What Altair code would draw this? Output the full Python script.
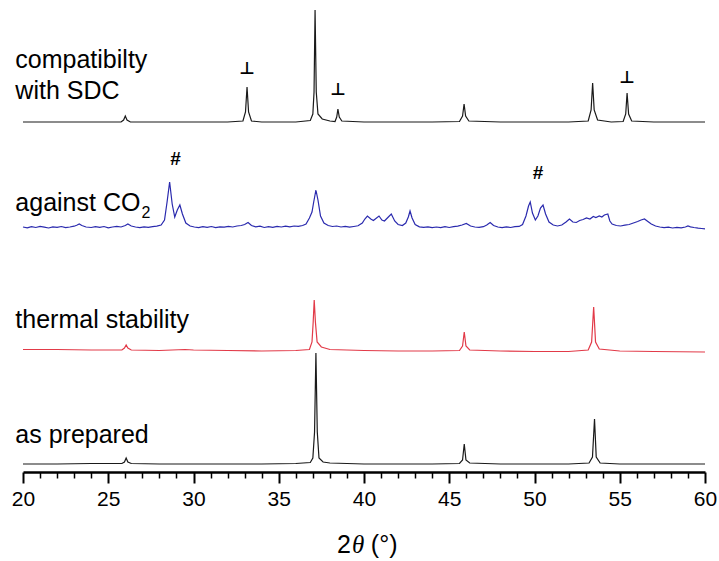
import altair as alt
import pandas as pd

# ---- data (2theta in degrees, intensity in arbitrary stacked units) ----
ap_x = [20.0, 22.0, 24.0, 25.8, 25.95, 26.05, 26.15, 26.35, 28.0, 30.0, 32.0, 34.0, 36.0, 36.85, 37.0, 37.1,
        37.18, 37.26, 37.36, 37.6, 38.0, 40.0, 42.0, 44.0, 45.6, 45.78, 45.88, 45.98, 46.2, 48.0, 50.0, 52.0,
        53.2, 53.4, 53.52, 53.62, 53.85, 55.0, 57.0, 60.0]
ap_y = [8, 8, 8.5, 8.5, 10, 14, 10, 8.5, 8, 8, 8, 8, 8.5, 9.5, 14, 40,
        119, 40, 14, 10, 9, 8, 8, 8, 8.5, 12, 28, 12, 9, 8, 8, 8,
        9, 15, 53, 15, 9, 8, 8, 8]

th_x = [20.0, 22.0, 24.0, 25.8, 25.95, 26.05, 26.15, 26.35, 28.0, 29.5, 30.0, 32.0, 34.0, 36.0, 36.8, 36.95,
        37.02, 37.08, 37.15, 37.25, 37.5, 38.0, 40.0, 42.0, 44.0, 45.6, 45.78, 45.88, 45.98, 46.2, 48.0, 50.0,
        52.0, 53.15, 53.35, 53.47, 53.58, 53.8, 55.0, 57.0, 60.0]
th_y = [122.5, 122.5, 122, 122, 124, 127, 124, 122, 121.5, 122.5, 122, 121.5, 121, 121.5, 122.5, 130,
        150, 172, 150, 130, 125, 122.5, 121.5, 121, 121, 121.5, 126, 140, 126, 122, 121, 120.5,
        120.5, 122, 130, 165, 130, 123, 121, 120.5, 120]

co_x_a = [20.0, 20.25, 20.5, 20.75, 21.0, 21.25, 21.5, 21.75, 22.0, 22.25, 22.5, 22.75, 23.0, 23.15, 23.3, 23.45,
          23.7, 24.0, 24.25, 24.5, 24.75, 25.0, 25.25, 25.5, 25.75, 26.0, 26.15, 26.35, 26.6, 26.85, 27.1, 27.35,
          27.6, 27.85, 28.1, 28.3, 28.45, 28.6, 28.75, 28.9, 29.05, 29.2, 29.35, 29.55, 29.8, 30.05, 30.3, 30.55,
          30.8, 31.05, 31.3, 31.55, 31.8, 32.05, 32.3, 32.55, 32.8, 33.0, 33.2, 33.4, 33.65, 33.9, 34.15, 34.4,
          34.65, 34.9, 35.15, 35.4, 35.65, 35.9, 36.15, 36.4, 36.6, 36.8, 36.95, 37.05, 37.18, 37.3, 37.45, 37.65,
          37.9, 38.15, 38.4, 38.65, 38.9, 39.15, 39.4, 39.65, 39.9, 40.05, 40.2, 40.4, 40.55, 40.7, 40.88, 41.05,
          41.2, 41.4, 41.6, 41.8, 42.0, 42.25, 42.45, 42.6, 42.7, 42.82, 43.0, 43.25, 43.5, 43.75]
co_y_a = [245, 244.2, 245.3, 244.5, 245.6, 244.8, 244, 245.2, 244.6, 245.5, 244.3, 245, 245.8, 246.8, 248, 246.5,
          245, 244.5, 245.4, 244.6, 245.5, 244.2, 245, 245.6, 245, 246.5, 248, 246, 245, 244.3, 245.2, 244.6,
          245.4, 245.8, 247, 252, 270, 290, 268, 255, 262, 267, 258, 249, 246, 245, 244.4, 245.3,
          244.6, 245.5, 244.4, 245.2, 244.8, 245.6, 245, 246, 246.5, 247.5, 249.5, 246.5, 245.2, 245.8, 244.5, 245.3,
          244.6, 245.6, 245, 245.8, 245.2, 246, 245.6, 246.5, 248, 254, 260, 270, 282, 272, 256, 249,
          246.5, 245.5, 246, 245, 245.6, 244.8, 245.5, 246.2, 249, 253, 256, 253, 251.5, 253.5, 256, 252,
          251, 254.5, 258, 251, 247.5, 246.5, 249, 255, 261, 254, 247.5, 245.2, 244.6, 245.2]
co_x_b = [44.0, 44.25, 44.5, 44.75, 45.0, 45.25, 45.5, 45.75, 46.0, 46.25, 46.5, 46.75, 47.0, 47.2, 47.4, 47.6,
          47.85, 48.1, 48.35, 48.6, 48.85, 49.1, 49.3, 49.5, 49.65, 49.75, 49.88, 50.05, 50.2, 50.35, 50.5, 50.65,
          50.85, 51.1, 51.35, 51.6, 51.85, 52.05, 52.25, 52.45, 52.65, 52.85, 53.05, 53.25, 53.45, 53.6, 53.8, 53.95,
          54.1, 54.3, 54.42, 54.55, 54.8, 55.05, 55.3, 55.55, 55.8, 56.05, 56.25, 56.45, 56.65, 56.85, 57.1, 57.35,
          57.6, 57.85, 58.1, 58.35, 58.6, 58.85, 59.0, 59.15, 59.35, 59.6, 59.8, 60.0]
co_y_b = [244.3, 245, 244.4, 245.3, 244.5, 245.4, 245.8, 247, 248.5, 246, 245, 244.6, 245.3, 247, 249.5, 246.5,
          245, 244.4, 245.2, 244.5, 245.3, 245.6, 247.5, 256, 266, 270, 259, 252, 256, 264, 267, 258,
          250, 247, 246, 247, 250, 253, 250, 249.5, 251.5, 252.5, 254, 253, 255.5, 254.5, 256, 255,
          257, 258, 251, 248, 246.5, 246, 246.8, 247.5, 249, 250.5, 252, 253, 250.5, 248, 246, 245,
          244.4, 244.8, 244, 244.6, 244.2, 245, 246, 245.2, 244.5, 243.8, 243.5, 243.2]

sdc_x = [20.0, 22.0, 24.0, 25.75, 25.9, 26.0, 26.1, 26.3, 28.0, 30.0, 32.0, 32.9, 33.05, 33.14, 33.23, 33.4,
         34.0, 36.0, 36.85, 37.0, 37.07, 37.13, 37.2, 37.3, 37.55, 38.0, 38.3, 38.4, 38.47, 38.55, 38.7, 40.0,
         42.0, 44.0, 45.6, 45.78, 45.87, 45.96, 46.15, 48.0, 50.0, 52.0, 53.15, 53.32, 53.41, 53.5, 53.7, 54.5,
         55.2, 55.35, 55.43, 55.52, 55.7, 57.0, 60.0]
sdc_y = [350, 350, 350, 350, 352, 356, 352, 350, 350, 350, 350, 351, 360, 385, 360, 351,
         350, 350, 351.5, 358, 380, 462, 380, 358, 353, 351, 350.5, 355, 363, 355, 351, 350,
         350, 350, 350.5, 356, 368, 356, 351, 350, 350, 350, 351, 362, 389, 362, 352, 350,
         350.5, 358, 379, 358, 351, 350, 350]

series_names = ["as prepared", "thermal stability", "against CO2", "compatibility with SDC"]
series_colors = ["#1a1a1a", "#e23a48", "#2a2aae", "#1a1a1a"]

label_text = ["compatibilty", "with SDC", "against CO", "thermal stability", "as prepared"]
label_x = [19.55, 19.55, 19.55, 19.55, 19.55]
label_y = [404, 373, 261, 144, 29]

sub_text = ["2"]
sub_x = [26.95]
sub_y = [254]

perp_x = [33.14, 38.47, 55.43]
perp_y = [398, 377, 389]
hash_x = [28.95, 50.2]
hash_y = [313, 299]

# axis title pieces: "2", italic theta, "(°)"
title_text = ["2", "\u03b8", "(\u00b0)"]
title_x = [38.42, 39.3, 40.4]
title_y = [-81, -81, -81]
title_style = ["normal", "italic", "normal"]

major_ticks = [20, 25, 30, 35, 40, 45, 50, 55, 60]
minor_ticks = [v for v in range(21, 60) if v % 5 != 0]

# ---- build tables ----
frames = []
for name, xs, ys in [(series_names[0], ap_x, ap_y), (series_names[1], th_x, th_y),
                     (series_names[2], co_x_a + co_x_b, co_y_a + co_y_b), (series_names[3], sdc_x, sdc_y)]:
    frames.append(pd.DataFrame({"x": xs, "y": ys, "series": name}))
lines_df = pd.concat(frames, ignore_index=True)

labels_df = pd.DataFrame({"x": label_x, "y": label_y, "text": label_text})
sub_df = pd.DataFrame({"x": sub_x, "y": sub_y, "text": sub_text})
perp_df = pd.DataFrame({"x": perp_x, "y": perp_y, "text": ["\u22a5"] * len(perp_x)})
hash_df = pd.DataFrame({"x": hash_x, "y": hash_y, "text": ["#"] * len(hash_x)})
title_df = pd.DataFrame({"x": title_x, "y": title_y, "text": title_text, "style": title_style})

xscale = alt.Scale(domain=[20, 60], nice=False, zero=False)
yscale = alt.Scale(domain=[0, 472], nice=False, zero=False)

main_axis = alt.Axis(values=major_ticks, format="d", title=None, orient="bottom",
                     domainColor="black", domainWidth=2.5, tickColor="black", tickWidth=2,
                     tickSize=11, labelColor="black", labelFontSize=21, labelFont="Liberation Sans",
                     labelPadding=5, grid=False, labelFlush=False)
minor_axis = alt.Axis(values=minor_ticks, orient="bottom", labels=False, domain=False,
                      tickColor="black", tickWidth=1.5, tickSize=6, title=None, grid=False)

lines = alt.Chart(lines_df).mark_line(strokeWidth=1.2).encode(
    x=alt.X("x:Q", scale=xscale, axis=main_axis),
    y=alt.Y("y:Q", scale=yscale, axis=None),
    color=alt.Color("series:N", scale=alt.Scale(domain=series_names, range=series_colors), legend=None),
    detail="series:N",
)

labels = alt.Chart(labels_df).mark_text(align="left", baseline="alphabetic", fontSize=25,
                                        font="Liberation Sans", color="black").encode(
    x=alt.X("x:Q", scale=xscale, axis=minor_axis),
    y=alt.Y("y:Q", scale=yscale, axis=None),
    text="text:N",
)

sub = alt.Chart(sub_df).mark_text(align="left", baseline="alphabetic", fontSize=16,
                                  font="Liberation Sans", color="black").encode(
    x=alt.X("x:Q", scale=xscale, axis=None),
    y=alt.Y("y:Q", scale=yscale, axis=None),
    text="text:N",
)

perp = alt.Chart(perp_df).mark_text(align="center", baseline="alphabetic", fontSize=17,
                                    font="DejaVu Sans", fontWeight="bold", color="black").encode(
    x=alt.X("x:Q", scale=xscale, axis=None),
    y=alt.Y("y:Q", scale=yscale, axis=None),
    text="text:N",
)

hashes = alt.Chart(hash_df).mark_text(align="center", baseline="middle", fontSize=19,
                                      font="Liberation Sans", fontWeight="bold", color="black").encode(
    x=alt.X("x:Q", scale=xscale, axis=None),
    y=alt.Y("y:Q", scale=yscale, axis=None),
    text="text:N",
)

title_normal = alt.Chart(title_df).transform_filter(alt.datum.style == "normal").mark_text(
    align="left", baseline="alphabetic", fontSize=25, font="Liberation Sans", color="black").encode(
    x=alt.X("x:Q", scale=xscale, axis=None),
    y=alt.Y("y:Q", scale=yscale, axis=None),
    text="text:N",
)
title_italic = alt.Chart(title_df).transform_filter(alt.datum.style == "italic").mark_text(
    align="left", baseline="alphabetic", fontSize=25, font="Liberation Serif", fontStyle="italic",
    color="black").encode(
    x=alt.X("x:Q", scale=xscale, axis=None),
    y=alt.Y("y:Q", scale=yscale, axis=None),
    text="text:N",
)

chart = alt.layer(lines, labels, sub, perp, hashes, title_normal, title_italic).resolve_axis(
    x="independent").properties(
    width=682, height=472,
    autosize=alt.AutoSizeParams(type="none"),
    padding={"left": 23, "top": 0, "right": 14, "bottom": 89},
    background="white",
).configure_view(stroke=None)

chart.save("out.html", embed_options={"renderer": "svg", "actions": False})
